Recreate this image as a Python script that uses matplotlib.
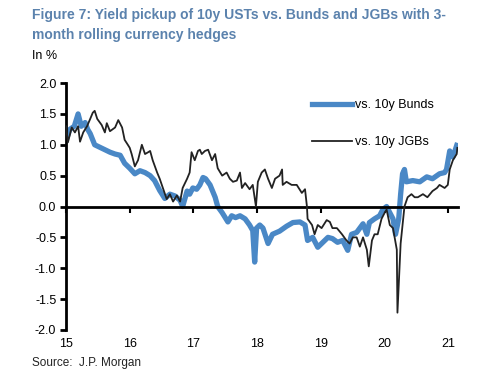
import matplotlib
matplotlib.use("Agg")
import matplotlib.pyplot as plt

# values (decimal year, yield pickup in %)
bund_years = [15.00, 15.06, 15.13, 15.19, 15.24, 15.30, 15.34, 15.38, 15.45, 15.53,
              15.61, 15.69, 15.77, 15.85, 15.92, 16.00, 16.08, 16.16, 16.24, 16.32,
              16.39, 16.47, 16.55, 16.63, 16.71, 16.79, 16.83, 16.90, 16.94, 16.99,
              17.05, 17.10, 17.15, 17.19, 17.26, 17.34, 17.38, 17.45, 17.54, 17.60,
              17.66, 17.73, 17.81, 17.88, 17.93, 17.96, 17.99, 18.04, 18.09, 18.17,
              18.24, 18.35, 18.46, 18.56, 18.67, 18.75, 18.79, 18.87, 18.95, 19.03,
              19.11, 19.18, 19.26, 19.34, 19.42, 19.48, 19.56, 19.66, 19.72, 19.76,
              19.84, 19.92, 19.97, 20.03, 20.08, 20.13, 20.17, 20.22, 20.25, 20.28,
              20.31, 20.34, 20.44, 20.55, 20.66, 20.75, 20.86, 20.94, 20.97, 21.02,
              21.07, 21.13]
bund_vals = [1.07, 1.25, 1.30, 1.50, 1.30, 1.36, 1.25, 1.18, 1.00, 0.96,
             0.92, 0.88, 0.85, 0.83, 0.70, 0.62, 0.53, 0.58, 0.55, 0.50,
             0.42, 0.26, 0.13, 0.20, 0.17, 0.10, 0.00, 0.25, 0.20, 0.30,
             0.28, 0.35, 0.47, 0.45, 0.35, 0.15, 0.00, -0.10, -0.25, -0.15,
             -0.18, -0.15, -0.20, -0.30, -0.39, -0.90, -0.35, -0.30, -0.35, -0.60,
             -0.45, -0.40, -0.32, -0.26, -0.25, -0.30, -0.55, -0.50, -0.66, -0.58,
             -0.50, -0.52, -0.58, -0.55, -0.71, -0.45, -0.42, -0.28, -0.45, -0.26,
             -0.20, -0.15, -0.05, 0.00, -0.10, -0.20, -0.45, -0.20, 0.20, 0.53,
             0.60, 0.40, 0.42, 0.40, 0.48, 0.45, 0.53, 0.55, 0.60, 0.90,
             0.80, 0.99]

jgb_years = [15.00, 15.03, 15.09, 15.14, 15.19, 15.22, 15.27, 15.33, 15.38, 15.42,
             15.45, 15.49, 15.56, 15.61, 15.64, 15.69, 15.77, 15.82, 15.88, 15.92,
             15.97, 16.00, 16.03, 16.08, 16.13, 16.19, 16.24, 16.29, 16.32, 16.36,
             16.43, 16.47, 16.52, 16.58, 16.63, 16.68, 16.74, 16.79, 16.83, 16.90,
             16.94, 16.97, 17.02, 17.07, 17.10, 17.13, 17.18, 17.23, 17.29, 17.34,
             17.38, 17.45, 17.52, 17.57, 17.62, 17.68, 17.73, 17.76, 17.81, 17.88,
             17.93, 17.98, 18.01, 18.07, 18.12, 18.17, 18.23, 18.28, 18.35, 18.39,
             18.40, 18.46, 18.54, 18.62, 18.70, 18.75, 18.78, 18.79, 18.86, 18.90,
             18.95, 19.01, 19.09, 19.14, 19.18, 19.25, 19.33, 19.40, 19.45, 19.50,
             19.56, 19.61, 19.66, 19.72, 19.75, 19.80, 19.84, 19.89, 19.95, 20.00,
             20.03, 20.08, 20.13, 20.19, 20.20, 20.25, 20.28, 20.31, 20.36, 20.42,
             20.47, 20.52, 20.60, 20.67, 20.75, 20.82, 20.86, 20.94, 20.99, 21.02,
             21.07, 21.13, 21.14]
jgb_vals = [1.30, 1.04, 1.28, 1.20, 1.30, 1.05, 1.20, 1.30, 1.42, 1.52,
            1.55, 1.42, 1.32, 1.20, 1.35, 1.22, 1.28, 1.40, 1.28, 1.08,
            1.00, 0.95, 0.85, 0.65, 0.75, 1.00, 0.85, 0.88, 0.90, 0.75,
            0.55, 0.45, 0.30, 0.12, 0.20, 0.08, 0.18, 0.08, 0.30, 0.45,
            0.55, 0.88, 0.75, 0.90, 0.92, 0.85, 0.90, 0.92, 0.75, 0.85,
            0.62, 0.50, 0.55, 0.45, 0.40, 0.42, 0.55, 0.30, 0.38, 0.28,
            0.35, 0.00, 0.40, 0.55, 0.60, 0.45, 0.30, 0.45, 0.50, 0.60,
            0.35, 0.40, 0.35, 0.35, 0.22, 0.28, 0.00, -0.20, -0.30, -0.45,
            -0.30, -0.35, -0.22, -0.25, -0.35, -0.35, -0.45, -0.55, -0.60, -0.50,
            -0.50, -0.65, -0.50, -0.70, -0.97, -0.55, -0.45, -0.45, -0.20, -0.10,
            -0.05, -0.30, -0.35, -0.70, -1.72, -0.60, -0.30, 0.00, 0.15, 0.20,
            0.15, 0.15, 0.20, 0.15, 0.25, 0.30, 0.35, 0.30, 0.35, 0.60,
            0.75, 0.85, 0.95]

year_ticks = [15, 16, 17, 18, 19, 20, 21]
year_labels = ["15", "16", "17", "18", "19", "20", "21"]
y_ticks = [-2.0, -1.5, -1.0, -0.5, 0.0, 0.5, 1.0, 1.5, 2.0]

plt.rcParams["font.family"] = ["Liberation Sans", "DejaVu Sans"]

fig = plt.figure(figsize=(5.0, 3.81), dpi=100)
ax = fig.add_axes([0.132, 0.134, 0.784, 0.648])

ax.plot(bund_years, bund_vals, color="#4a88c6", linewidth=3.8, label="vs. 10y Bunds",
        solid_joinstyle="round", zorder=2)
ax.plot(jgb_years, jgb_vals, color="#222222", linewidth=1.3, label="vs. 10y JGBs", zorder=3)

ax.set_xlim(15, 21.15)
ax.set_ylim(-2, 2)

for s in ["top", "right"]:
    ax.spines[s].set_visible(False)
ax.spines["left"].set_linewidth(2)
ax.spines["bottom"].set_linewidth(2)
ax.spines["bottom"].set_position(("data", 0))

ax.set_yticks(y_ticks)
ax.set_yticklabels([f"{v:.1f}" for v in y_ticks])
ax.tick_params(axis="y", direction="out", length=4, width=2, labelsize=9, pad=3)
ax.set_xticks(year_ticks)
ax.tick_params(axis="x", direction="out", length=4, width=1.5, labelbottom=False)

# year labels sit under the plot, not on the zero line
sec = ax.secondary_xaxis(0.0)
sec.set_xticks(year_ticks)
sec.set_xticklabels(year_labels)
sec.spines["bottom"].set_visible(False)
sec.tick_params(length=0, labelsize=9, pad=6)

ax.legend(loc="upper left", bbox_to_anchor=(0.60, 0.98), frameon=False, fontsize=9,
          handlelength=3.2, handletextpad=0.2, labelspacing=2.0)

fig.text(0.064, 0.978, "Figure 7: Yield pickup of 10y USTs vs. Bunds and JGBs with 3-\nmonth rolling currency hedges",
         color="#5b82ad", fontsize=10, fontweight="bold", va="top", linespacing=1.5)
fig.text(0.064, 0.852, "In %", fontsize=9, va="center")
fig.text(0.064, 0.048, "Source:  J.P. Morgan", fontsize=8.5, va="center", color="#222222")

fig.savefig("out.png", dpi=100)
